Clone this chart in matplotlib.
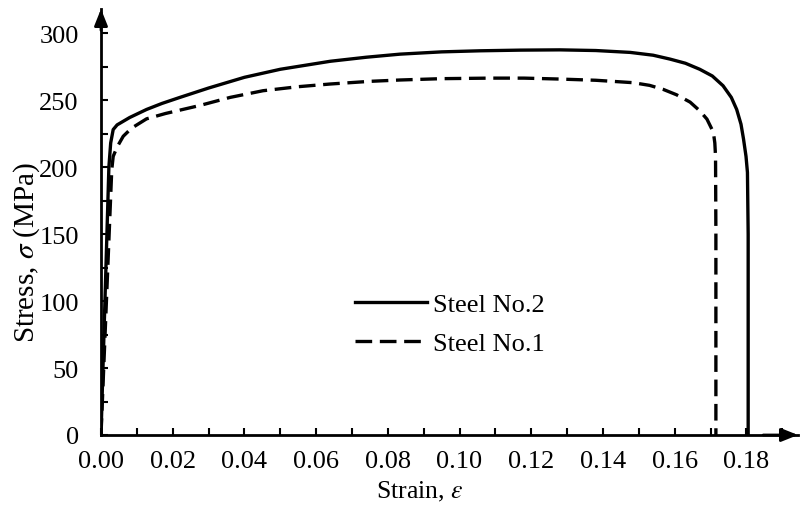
import numpy as np
import matplotlib
matplotlib.use("Agg")
import matplotlib.pyplot as plt

plt.rcParams["font.family"] = ["Liberation Serif", "DejaVu Serif"]
plt.rcParams["mathtext.fontset"] = "stix"
plt.rcParams["font.size"] = 19

# data
strain_no2 = [0, 0.0022, 0.0027, 0.0034, 0.0045, 0.008, 0.0127, 0.017, 0.022, 0.03,
              0.04, 0.05, 0.064, 0.074, 0.0834, 0.095, 0.1057, 0.117, 0.128, 0.138,
              0.1476, 0.154, 0.1587, 0.163, 0.167, 0.1705, 0.1735, 0.1758, 0.1773,
              0.1785, 0.1792, 0.1799, 0.1803, 0.1805, 0.1805]
stress_no2 = [0, 200, 218, 228, 231.5, 237, 243, 247.5, 252, 259,
              267, 273, 279, 282, 284.3, 286, 286.8, 287.3, 287.5, 287,
              285.6, 283.5, 280.6, 277.5, 273, 268, 260.7, 252, 243,
              232, 221, 208, 196, 150, 0]

strain_no1 = [0, 0.003, 0.0034, 0.0045, 0.0062, 0.0085, 0.0127, 0.018, 0.0276,
              0.036, 0.0452, 0.055, 0.0639, 0.075, 0.0834, 0.095, 0.1085, 0.118,
              0.128, 0.138, 0.1484, 0.153, 0.1568, 0.1605, 0.1643, 0.167, 0.169,
              0.1708, 0.1712, 0.1714, 0.1715, 0.1715]
stress_no1 = [0, 198, 208, 215, 223, 229, 236, 240, 246,
              252, 257, 260, 262, 264, 265, 266, 266.4, 266.4,
              265.7, 264.8, 263, 261, 258, 254, 248.5, 242, 235.8,
              226, 218, 208, 150, 0]

labels = ["Steel No.2", "Steel No.1"]
x_major = np.arange(0, 0.181, 0.02)
x_minor = np.arange(0, 0.191, 0.01)
y_major = np.arange(0, 301, 50)
y_minor = np.arange(0, 301, 25)

fig = plt.figure(figsize=(8, 5.06), dpi=100)
ax = fig.add_axes([101 / 800, 70 / 506, 697 / 800, 426 / 506])

ax.plot(strain_no2, stress_no2, color="k", lw=2.4, label=labels[0])
ax.plot(strain_no1, stress_no1, color="k", lw=2.4, dashes=(5, 2.3), label=labels[1])

ax.set_xlim(0, 0.1944)
ax.set_ylim(0, 318)

ax.spines["top"].set_visible(False)
ax.spines["right"].set_visible(False)
ax.spines["left"].set_linewidth(2)
ax.spines["bottom"].set_linewidth(2)

# arrow heads at the axis ends
arrow = dict(arrowstyle="-|>,head_length=0.5,head_width=0.2", color="k",
             lw=2, mutation_scale=20, shrinkA=0, shrinkB=0)
ax.annotate("", xy=(0, 1), xytext=(0, 0.95), xycoords="axes fraction", arrowprops=arrow)
ax.annotate("", xy=(1, 0), xytext=(0.95, 0), xycoords="axes fraction", arrowprops=arrow)

ax.set_xticks(x_major, [f"{v:.2f}" for v in x_major])
ax.set_xticks(x_minor, minor=True)
ax.set_yticks(y_major, [str(int(v)) for v in y_major])
ax.set_yticks(y_minor, minor=True)
ax.tick_params(which="both", direction="in", length=5, width=1.5)
ax.tick_params(axis="x", pad=11)
ax.tick_params(axis="y", pad=16)

fig.text(27 / 800, 1 - 252 / 506, r"Stress, $\sigma$ (MPa)", rotation=90,
         ha="center", va="center", fontsize=21)
fig.text(420 / 800, 1 - 492 / 506, r"Strain, $\varepsilon$", ha="center", va="center",
         fontsize=18.5)

ax.legend(frameon=False, loc="upper left", bbox_to_anchor=(0.364, 0.335),
          handlelength=2.75, handletextpad=0.2, labelspacing=0.6,
          borderpad=0, borderaxespad=0)

fig.savefig("out.png", dpi=100)
